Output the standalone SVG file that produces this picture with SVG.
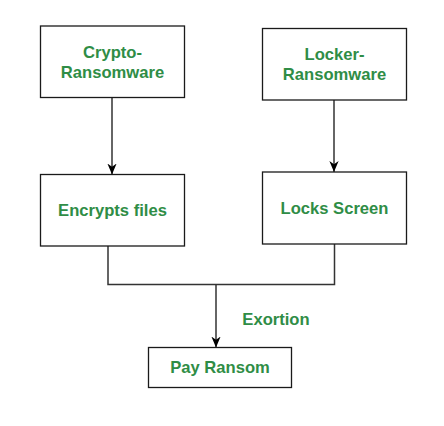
<svg xmlns="http://www.w3.org/2000/svg" width="444" height="426" viewBox="0 0 444 426">
<style>
.box{fill:#fff;stroke:#1a1a1a;stroke-width:1.3}
.lbl{font-family:"Liberation Sans",Arial,sans-serif;font-weight:bold;font-size:16.6px;fill:#2f8d46;text-anchor:middle}
.ln{fill:none;stroke:#333;stroke-width:1.5}
</style>
<defs>
<marker id="ah" viewBox="0 0 10 10" refX="10" refY="5" markerWidth="11" markerHeight="11" markerUnits="userSpaceOnUse" orient="auto">
<path d="M0,0.8 L10,5 L0,9.2 L3,5 Z" fill="#000"/>
</marker>
</defs>
<rect width="444" height="426" fill="#fff"/>
<g id="connectors">
<line class="ln" x1="112" y1="97" x2="112" y2="174.5" marker-end="url(#ah)"/>
<line class="ln" x1="334" y1="100" x2="334" y2="172" marker-end="url(#ah)"/>
<polyline class="ln" points="108,244 108,284.5 334.5,284.5 334.5,244"/>
<line class="ln" x1="216" y1="284.5" x2="216" y2="347.5" marker-end="url(#ah)"/>
<text class="lbl" x="276" y="325">Exortion</text>
</g>
<g id="crypto">
<rect class="box" x="40.5" y="26" width="144" height="71.5"/>
<text class="lbl" x="112.5" y="58">Crypto-</text>
<text class="lbl" x="112.5" y="77.5">Ransomware</text>
</g>
<g id="locker">
<rect class="box" x="262.5" y="28.5" width="144" height="71.5"/>
<text class="lbl" x="334.5" y="60">Locker-</text>
<text class="lbl" x="334.5" y="80">Ransomware</text>
</g>
<g id="encrypts">
<rect class="box" x="40.5" y="174.5" width="144" height="71.5"/>
<text class="lbl" x="112.5" y="216">Encrypts files</text>
</g>
<g id="locks">
<rect class="box" x="262.5" y="172" width="144" height="72"/>
<text class="lbl" x="334.5" y="214">Locks Screen</text>
</g>
<g id="pay">
<rect class="box" x="148.5" y="347.5" width="143" height="40"/>
<text class="lbl" x="220" y="373">Pay Ransom</text>
</g>
</svg>
